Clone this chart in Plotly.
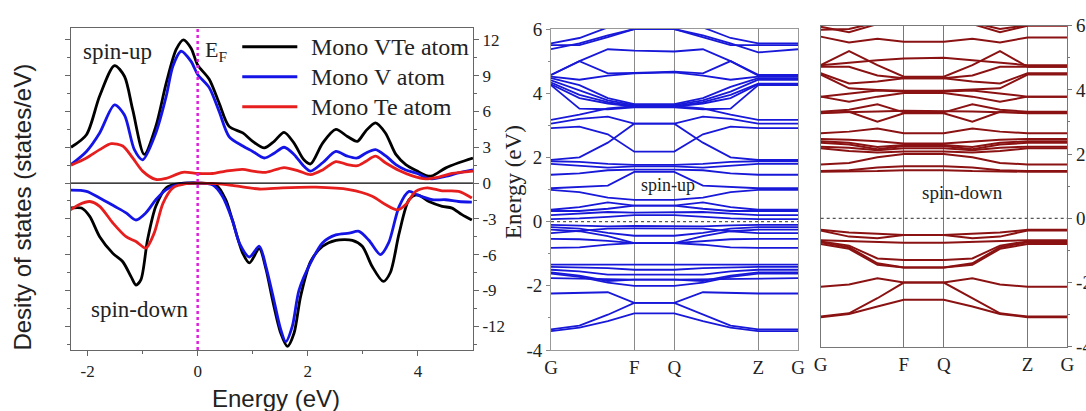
import plotly.graph_objects as go

SERIF = "Liberation Serif, Times New Roman, serif"
SANS = "Liberation Sans, Arial, sans-serif"

# ---------------- DOS data (energy in eV, DOS in states/eV) ----------------
vte_up_e = [-2.3, -2.02, -1.78, -1.51, -1.33, -1.18, -0.97, -0.76, -0.57, -0.39, -0.26, -0.12, 0.0, 0.21, 0.39,
            0.57, 0.82, 1.0, 1.21, 1.39, 1.57, 1.75, 1.93, 2.05, 2.27, 2.51, 2.72, 2.9, 3.05, 3.23, 3.41, 3.6,
            3.78, 3.99, 4.17, 4.26, 4.5, 4.74, 5.0]
vte_up_d = [3.0, 4.05, 7.3, 9.85, 8.95, 6.15, 2.4, 4.75, 8.4, 11.2, 12.0, 11.3, 9.9, 8.7, 6.7,
            4.75, 4.2, 3.5, 2.95, 3.5, 4.25, 3.35, 1.95, 1.6, 3.35, 4.5, 3.9, 3.5, 4.35, 5.05, 4.2, 2.4,
            1.55, 1.0, 0.6, 0.6, 1.25, 1.7, 2.1]

v_up_e = [-2.3, -2.02, -1.78, -1.51, -1.33, -1.15, -1.0, -0.76, -0.57, -0.45, -0.3, -0.12, 0.0, 0.21, 0.39,
          0.57, 0.82, 1.0, 1.21, 1.39, 1.57, 1.75, 1.93, 2.05, 2.27, 2.51, 2.72, 2.9, 3.05, 3.23, 3.41, 3.6,
          3.78, 3.99, 4.17, 4.26, 4.5, 4.74, 5.0]
v_up_d = [1.55, 2.65, 4.2, 6.55, 5.7, 2.8, 1.95, 4.2, 7.3, 9.8, 11.05, 10.2, 9.1, 8.0, 6.0,
          3.9, 3.1, 2.65, 2.1, 2.5, 3.0, 2.4, 1.4, 1.0, 1.7, 2.65, 2.25, 2.1, 2.5, 2.8, 2.3, 1.55,
          1.1, 0.8, 0.4, 0.35, 0.55, 0.85, 1.1]

te_up_e = [-2.3, -2.02, -1.78, -1.57, -1.36, -1.18, -1.0, -0.76, -0.57, -0.27, 0.0, 0.27, 0.51, 0.82, 1.0,
           1.24, 1.57, 1.84, 2.05, 2.27, 2.51, 2.72, 2.9, 3.05, 3.23, 3.41, 3.66, 3.9, 4.14, 4.38, 4.62, 5.0]
te_up_d = [1.5, 2.1, 2.8, 3.3, 3.1, 2.1, 1.0, 0.3, 0.4, 0.9, 0.8, 0.8, 1.0, 1.15, 1.0,
           0.9, 1.3, 1.0, 0.7, 1.1, 1.8, 1.55, 1.45, 1.8, 2.25, 1.7, 1.05, 0.6, 0.35, 0.5, 0.8, 1.0]

vte_dn_e = [-2.31, -2.11, -1.96, -1.78, -1.54, -1.36, -1.21, -1.12, -1.03, -0.91, -0.76, -0.57, -0.39, 0.0,
            0.33, 0.51, 0.63, 0.82, 0.94, 1.12, 1.24, 1.36, 1.51, 1.63, 1.75, 1.87, 2.05, 2.27, 2.51, 2.81,
            2.99, 3.17, 3.37, 3.5, 3.66, 3.84, 3.99, 4.2, 4.44, 4.62, 4.8, 4.98]
vte_dn_d = [-2.1, -2.1, -2.8, -4.5, -5.9, -6.6, -7.85, -8.55, -8.1, -4.75, -1.95, -0.4, -0.1, 0.0,
            -0.15, -1.4, -3.1, -5.9, -6.7, -5.5, -7.2, -9.8, -12.6, -13.7, -12.6, -9.5, -6.6, -5.3, -4.8, -4.8,
            -5.3, -7.0, -8.25, -7.5, -4.2, -1.4, -1.0, -1.55, -1.95, -2.1, -2.65, -3.1]

v_dn_e = [-2.31, -2.02, -1.78, -1.51, -1.3, -1.12, -0.94, -0.76, -0.57, -0.33, 0.0, 0.27, 0.45, 0.63, 0.76,
          0.94, 1.12, 1.24, 1.36, 1.51, 1.6, 1.72, 1.84, 2.05, 2.27, 2.51, 2.75, 2.93, 3.11, 3.32, 3.47, 3.66,
          3.84, 3.99, 4.26, 4.5, 4.74, 4.98]
v_dn_d = [-0.6, -0.7, -1.25, -1.95, -2.5, -3.1, -2.5, -1.4, -0.55, -0.1, 0.0, -0.15, -1.1, -3.1, -5.05,
          -6.2, -5.3, -7.0, -9.3, -12.3, -13.3, -12.0, -9.0, -6.7, -5.0, -4.35, -4.2, -4.05, -4.8, -6.0, -5.0, -1.95,
          -0.7, -1.0, -1.4, -1.4, -1.55, -1.6]

te_dn_e = [-2.31, -2.15, -1.96, -1.78, -1.54, -1.3, -1.12, -0.94, -0.79, -0.63, -0.45, -0.21, 0.0, 0.33,
           0.63, 1.12, 1.54, 2.15, 2.75, 3.17, 3.41, 3.63, 3.78, 3.96, 4.17, 4.44, 4.74, 4.98]
te_dn_d = [-2.25, -1.8, -1.55, -1.95, -3.35, -4.5, -4.9, -5.45, -4.2, -1.7, -0.4, -0.05, 0.0, -0.05,
           -0.2, -0.5, -0.4, -0.35, -0.55, -1.1, -1.8, -2.25, -1.8, -0.7, -0.4, -0.65, -0.7, -1.25]

dos_names = ["Mono VTe atom", "Mono V atom", "Mono Te atom"]
dos_colors = ["#000000", "#1414e6", "#e61e1e"]
dos_yticks = [-12, -9, -6, -3, 0, 3, 6, 9, 12]
dos_yticktext = ["-12", "-9", "-6", "-3", "0", "3", "6", "9", "12"]
dos_yminor = [-13.5, -10.5, -7.5, -4.5, -1.5, 1.5, 4.5, 7.5, 10.5]
dos_xticks = [-2, 0, 2, 4]
dos_xticktext = ["-2", "0", "2", "4"]
dos_xminor = [-1, 1, 3]

# ---------------- band data: k path G - k1 - k2 - F - Q - k2' - k1' - Z - G ----------------
k_path = [0.0, 0.115, 0.23, 0.337, 0.499, 0.615, 0.727, 0.839, 1.0]
k_ticks = [0.0, 0.337, 0.499, 0.839, 1.0]
k_labels = ["G", "F", "Q", "Z", "G"]
band_yticks = [-4, -2, 0, 2, 4, 6]
band_yticktext = ["-4", "-2", "0", "2", "4", "6"]
band_yminor = [-3, -1, 1, 3, 5]

bands_up = [
    [5.55, 5.72, 6.05, 6.3, 6.3, 6.05, 5.72, 5.55, 5.55],
    [5.5, 5.5, 5.75, 6.0, 6.0, 5.75, 5.5, 5.5, 5.5],
    [5.37, 5.55, 5.8, 6.0, 6.0, 5.8, 5.55, 5.27, 5.37],
    [4.57, 5.0, 5.37, 5.33, 5.3, 5.37, 5.0, 4.57, 4.57],
    [4.57, 5.0, 4.62, 4.63, 4.67, 4.62, 5.0, 4.55, 4.55],
    [4.52, 4.42, 4.55, 4.62, 4.65, 4.55, 4.42, 4.52, 4.52],
    [4.47, 4.25, 3.85, 3.66, 3.66, 3.85, 4.2, 4.47, 4.47],
    [4.4, 4.1, 3.78, 3.63, 3.63, 3.78, 4.05, 4.42, 4.42],
    [4.33, 3.95, 3.72, 3.6, 3.6, 3.72, 3.95, 4.3, 4.3],
    [4.28, 3.85, 3.68, 3.58, 3.58, 3.68, 3.85, 4.28, 4.28],
    [4.25, 3.52, 3.5, 3.56, 3.56, 3.5, 3.52, 4.25, 4.25],
    [3.17, 3.33, 3.53, 3.6, 3.6, 3.53, 3.33, 3.17, 3.17],
    [3.05, 3.2, 3.27, 3.05, 3.05, 3.27, 3.2, 3.05, 3.05],
    [2.91, 2.96, 2.72, 2.18, 2.18, 2.72, 2.96, 2.91, 2.91],
    [1.92, 2.0, 2.46, 3.05, 3.05, 2.46, 2.0, 1.92, 1.92],
    [1.88, 1.86, 1.8, 1.77, 1.77, 1.8, 1.86, 1.88, 1.88],
    [1.8, 1.75, 1.68, 1.72, 1.72, 1.68, 1.75, 1.8, 1.8],
    [1.46, 1.5, 1.6, 1.62, 1.62, 1.6, 1.5, 1.46, 1.46],
    [1.04, 1.08, 1.12, 1.55, 1.55, 1.12, 1.08, 1.04, 1.04],
    [0.99, 0.92, 0.75, 0.68, 0.68, 0.75, 0.92, 0.99, 0.99],
    [0.37, 0.45, 0.6, 0.5, 0.5, 0.6, 0.45, 0.37, 0.37],
    [0.33, 0.33, 0.4, 0.5, 0.5, 0.4, 0.33, 0.33, 0.33],
    [0.2, 0.25, 0.3, 0.28, 0.28, 0.3, 0.25, 0.2, 0.2],
    [0.08, 0.1, 0.15, 0.2, 0.2, 0.15, 0.1, 0.08, 0.08],
    [-0.1, -0.12, -0.15, -0.13, -0.13, -0.15, -0.12, -0.1, -0.1],
    [-0.17, -0.22, -0.35, -0.44, -0.44, -0.35, -0.22, -0.17, -0.17],
    [-0.25, -0.3, -0.45, -0.67, -0.67, -0.45, -0.3, -0.25, -0.25],
    [-0.36, -0.3, -0.22, -0.21, -0.21, -0.22, -0.3, -0.36, -0.36],
    [-0.54, -0.55, -0.6, -0.67, -0.67, -0.6, -0.55, -0.54, -0.54],
    [-0.82, -0.8, -0.72, -0.67, -0.67, -0.72, -0.8, -0.82, -0.82],
    [-1.34, -1.34, -1.34, -1.36, -1.36, -1.34, -1.34, -1.34, -1.34],
    [-1.41, -1.42, -1.45, -1.5, -1.5, -1.45, -1.42, -1.41, -1.41],
    [-1.5, -1.55, -1.65, -1.65, -1.65, -1.65, -1.55, -1.5, -1.5],
    [-1.58, -1.68, -1.85, -1.81, -1.81, -1.85, -1.68, -1.58, -1.58],
    [-1.62, -1.72, -1.9, -2.0, -2.0, -1.9, -1.72, -1.62, -1.62],
    [-1.76, -1.78, -1.8, -1.81, -1.81, -1.8, -1.78, -1.76, -1.76],
    [-2.24, -2.22, -2.2, -2.53, -2.53, -2.2, -2.22, -2.24, -2.24],
    [-3.36, -3.24, -2.9, -2.53, -2.53, -2.9, -3.24, -3.36, -3.36],
    [-3.41, -3.3, -3.1, -2.86, -2.86, -3.1, -3.3, -3.41, -3.41],
]

bands_dn = [
    [5.97, 5.8, 6.05, 6.2, 6.2, 6.05, 5.8, 6.0, 6.0],
    [5.87, 5.9, 6.1, 6.3, 6.3, 6.1, 5.9, 6.02, 6.02],
    [5.66, 5.48, 5.59, 5.5, 5.5, 5.59, 5.48, 5.63, 5.63],
    [4.77, 5.21, 4.77, 4.41, 4.41, 4.77, 5.21, 4.72, 4.72],
    [4.77, 4.85, 4.92, 4.98, 5.0, 4.92, 4.85, 4.77, 4.77],
    [4.72, 4.72, 4.45, 4.36, 4.36, 4.45, 4.72, 4.72, 4.72],
    [4.52, 4.2, 4.26, 4.36, 4.36, 4.26, 4.2, 4.52, 4.52],
    [4.48, 4.05, 4.0, 3.97, 3.97, 4.0, 4.05, 4.48, 4.48],
    [3.79, 3.88, 3.98, 3.95, 3.95, 3.98, 3.88, 3.79, 3.79],
    [3.79, 3.63, 3.79, 3.9, 3.9, 3.79, 3.63, 3.79, 3.79],
    [3.32, 3.38, 3.55, 3.3, 3.3, 3.55, 3.38, 3.32, 3.32],
    [3.27, 3.32, 3.01, 3.27, 3.27, 3.01, 3.32, 3.27, 3.27],
    [3.29, 3.3, 3.33, 3.35, 3.35, 3.33, 3.3, 3.29, 3.29],
    [2.65, 2.7, 2.8, 2.65, 2.65, 2.8, 2.7, 2.65, 2.65],
    [2.47, 2.45, 2.4, 2.33, 2.33, 2.4, 2.45, 2.47, 2.47],
    [2.4, 2.35, 2.22, 2.28, 2.28, 2.22, 2.35, 2.4, 2.4],
    [2.35, 2.3, 2.15, 2.25, 2.25, 2.15, 2.3, 2.35, 2.35],
    [2.23, 2.2, 2.12, 2.18, 2.18, 2.12, 2.2, 2.23, 2.23],
    [2.18, 2.1, 2.05, 2.08, 2.08, 2.05, 2.1, 2.18, 2.18],
    [1.68, 1.72, 1.9, 2.0, 2.0, 1.9, 1.72, 1.68, 1.68],
    [1.47, 1.5, 1.58, 1.62, 1.62, 1.58, 1.5, 1.47, 1.47],
    [1.45, 1.45, 1.47, 1.5, 1.5, 1.47, 1.45, 1.45, 1.45],
    [-0.36, -0.44, -0.48, -0.52, -0.52, -0.48, -0.44, -0.36, -0.36],
    [-0.38, -0.57, -0.62, -0.52, -0.52, -0.62, -0.57, -0.38, -0.38],
    [-0.68, -0.7, -0.74, -0.76, -0.76, -0.74, -0.7, -0.68, -0.68],
    [-0.72, -0.85, -1.25, -1.3, -1.3, -1.25, -0.85, -0.72, -0.72],
    [-0.75, -0.9, -1.4, -1.53, -1.53, -1.4, -0.9, -0.75, -0.75],
    [-0.8, -0.95, -1.45, -1.53, -1.53, -1.45, -0.95, -0.8, -0.8],
    [-2.13, -2.06, -1.87, -2.0, -2.0, -1.87, -2.06, -2.13, -2.13],
    [-3.06, -2.96, -2.49, -2.0, -2.0, -2.49, -2.96, -3.06, -3.06],
    [-3.08, -2.98, -2.75, -2.54, -2.54, -2.75, -2.98, -3.08, -3.08],
]

fig = go.Figure()

# DOS curves
dos_sets = [
    (vte_up_e, vte_up_d, vte_dn_e, vte_dn_d),
    (v_up_e, v_up_d, v_dn_e, v_dn_d),
    (te_up_e, te_up_d, te_dn_e, te_dn_d),
]
for (ue, ud, de, dd), name, col in zip(dos_sets, dos_names, dos_colors):
    for xe, yd in ((ue, ud), (de, dd)):
        fig.add_trace(go.Scatter(x=xe, y=yd, mode="lines", name=name, showlegend=False,
                                 line=dict(color=col, width=2.8, shape="spline", smoothing=0.8),
                                 xaxis="x", yaxis="y"))

# Bands
for b in bands_up:
    fig.add_trace(go.Scatter(x=k_path, y=b, mode="lines", showlegend=False,
                             line=dict(color="#1818d8", width=1.8), xaxis="x2", yaxis="y2"))
for b in bands_dn:
    fig.add_trace(go.Scatter(x=k_path, y=b, mode="lines", showlegend=False,
                             line=dict(color="#8b1212", width=2.0), xaxis="x3", yaxis="y3"))

axis_common = dict(showgrid=False, zeroline=False, showline=True)

fig.update_layout(
    width=1086, height=411,
    margin=dict(l=0, r=0, t=0, b=0, autoexpand=False),
    paper_bgcolor="white", plot_bgcolor="white",
    showlegend=False,
    xaxis=dict(domain=[0.0654, 0.4355], range=[-2.3, 5.0], anchor="y",
               tickmode="array", tickvals=dos_xticks, ticktext=dos_xticktext,
               ticks="outside", ticklen=5, tickcolor="#666", linecolor="#666", linewidth=1.2,
               mirror=True, tickfont=dict(family=SERIF, size=17, color="#222"),
               minor=dict(ticks="outside", ticklen=3, tickvals=dos_xminor, tickcolor="#666"),
               **axis_common),
    yaxis=dict(domain=[0.1484, 0.9319], range=[-14, 13], anchor="x", side="right",
               tickmode="array", tickvals=dos_yticks, ticktext=dos_yticktext,
               ticks="outside", ticklen=5, tickcolor="#666", linecolor="#666", linewidth=1.2,
               mirror="ticks", tickfont=dict(family=SERIF, size=17, color="#222"),
               minor=dict(ticks="outside", ticklen=3, tickvals=dos_yminor, tickcolor="#666"),
               **axis_common),
    xaxis2=dict(domain=[0.5074, 0.7348], range=[0, 1], anchor="y2",
                tickmode="array", tickvals=k_ticks, ticktext=k_labels, ticks="",
                showgrid=True, gridcolor="#8a8a8a", gridwidth=1, zeroline=False,
                showline=True, linecolor="#999", mirror=True,
                tickfont=dict(family=SERIF, size=19, color="#222")),
    yaxis2=dict(domain=[0.1484, 0.9294], range=[-4, 6], anchor="x2", side="left",
                tickmode="array", tickvals=band_yticks, ticktext=band_yticktext,
                ticks="outside", ticklen=4, tickcolor="#888", linecolor="#999", mirror=True,
                tickfont=dict(family=SERIF, size=19, color="#222"),
                minor=dict(ticks="outside", ticklen=2, tickvals=band_yminor, tickcolor="#888"),
                **axis_common),
    xaxis3=dict(domain=[0.7557, 0.9828], range=[0, 1], anchor="y3",
                tickmode="array", tickvals=k_ticks, ticktext=k_labels, ticks="",
                showgrid=True, gridcolor="#777", gridwidth=1, zeroline=False,
                showline=True, linecolor="#777", mirror=True,
                tickfont=dict(family=SERIF, size=19, color="#222")),
    yaxis3=dict(domain=[0.1564, 0.9375], range=[-4, 6], anchor="x3", side="right",
                tickmode="array", tickvals=band_yticks, ticktext=band_yticktext,
                ticks="outside", ticklen=4, tickcolor="#777", linecolor="#777", mirror=True,
                tickfont=dict(family=SERIF, size=19, color="#222"),
                minor=dict(ticks="outside", ticklen=2, tickvals=band_yminor, tickcolor="#777"),
                **axis_common),
)

shapes = [
    dict(type="line", xref="x domain", yref="y", x0=0, x1=1, y0=0, y1=0,
         line=dict(color="#000", width=1.2)),
    dict(type="line", xref="x", yref="y domain", x0=0, x1=0, y0=0, y1=1,
         line=dict(color="#e01ee0", width=2.5, dash="dot")),
    dict(type="line", xref="x2 domain", yref="y2", x0=0, x1=1, y0=0, y1=0,
         line=dict(color="#555", width=1.2, dash="3px,3px")),
    dict(type="line", xref="x3 domain", yref="y3", x0=0, x1=1, y0=0, y1=0,
         line=dict(color="#555", width=1.2, dash="3px,3px")),
]
legend_y = [11.43, 8.92, 6.4]
for yy, col in zip(legend_y, dos_colors):
    shapes.append(dict(type="line", xref="x", yref="y", x0=0.81, x1=1.81, y0=yy, y1=yy,
                       line=dict(color=col, width=3)))
fig.update_layout(shapes=shapes)

ann = []
for yy, name in zip(legend_y, dos_names):
    ann.append(dict(x=2.02, y=yy, xref="x", yref="y", text=name, showarrow=False, xanchor="left",
                    yanchor="middle", font=dict(family=SERIF, size=24, color="#222")))
ann += [
    dict(x=-1.455, y=11.0, xref="x", yref="y", text="spin-up", showarrow=False,
         xanchor="center", yanchor="middle", font=dict(family=SERIF, size=23, color="#222")),
    dict(x=-1.04, y=-10.6, xref="x", yref="y", text="spin-down", showarrow=False,
         xanchor="center", yanchor="middle", font=dict(family=SERIF, size=23, color="#222")),
    dict(x=0.1, y=11.1, xref="x", yref="y", text="E<sub>F</sub>", showarrow=False, xanchor="left",
         yanchor="middle", font=dict(family=SERIF, size=22, color="#222")),
    dict(x=0.0212, y=0.495, xref="paper", yref="paper", text="Desity of states (states/eV)",
         showarrow=False, textangle=-90, xanchor="center", yanchor="middle",
         font=dict(family=SANS, size=24, color="#222")),
    dict(x=0.254, y=0.0316, xref="paper", yref="paper", text="Energy (eV)", showarrow=False,
         xanchor="center", yanchor="middle", font=dict(family=SANS, size=24, color="#222")),
    dict(x=0.4724, y=0.557, xref="paper", yref="paper", text="Energy (eV)", showarrow=False,
         textangle=-90, xanchor="center", yanchor="middle",
         font=dict(family=SERIF, size=23, color="#222")),
    dict(x=0.474, y=1.15, xref="x2", yref="y2", text="spin-up", showarrow=False,
         xanchor="center", yanchor="middle", font=dict(family=SERIF, size=18, color="#222")),
    dict(x=0.573, y=0.79, xref="x3", yref="y3", text="spin-down", showarrow=False,
         xanchor="center", yanchor="middle", font=dict(family=SERIF, size=19, color="#222")),
]
fig.update_layout(annotations=ann)

fig.write_html("out.html", config={"displayModeBar": False},
               post_script="document.body.style.margin='0px';")
